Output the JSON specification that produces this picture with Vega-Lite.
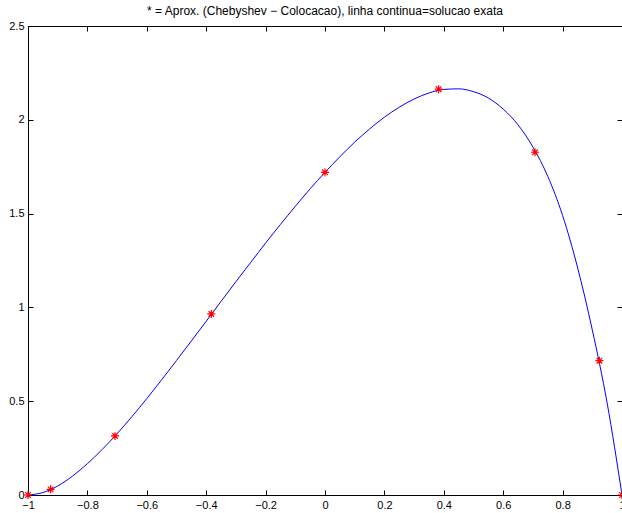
{
  "$schema": "https://vega.github.io/schema/vega-lite/v6.json",
  "autosize": "none",
  "width": 594,
  "height": 469,
  "padding": {"left": 28, "top": 26, "right": 0, "bottom": 18},
  "background": "white",
  "title": {"text": "* = Aprox. (Chebyshev − Colocacao), linha continua=solucao exata", "font": "Liberation Sans", "fontSize": 12, "fontWeight": "normal", "color": "black", "anchor": "middle", "offset": 2},
  "config": {
    "view": {"stroke": "black", "strokeWidth": 1},
    "axis": {"grid": false, "domainColor": "black", "tickColor": "black", "labelColor": "black", "labelFont": "Liberation Sans", "labelFontSize": 11, "labelFlush": false, "labelOverlap": false, "tickSize": -5, "title": null, "format": "~g"}
  },
  "datasets": {
    "curve": [
      {"x": -1, "y": 0}, {"x": -0.95, "y": 0.013}, {"x": -0.9, "y": 0.048}, {"x": -0.85, "y": 0.101},
      {"x": -0.8, "y": 0.167}, {"x": -0.75, "y": 0.243}, {"x": -0.7, "y": 0.327}, {"x": -0.65, "y": 0.418},
      {"x": -0.6, "y": 0.514}, {"x": -0.55, "y": 0.614}, {"x": -0.5, "y": 0.717}, {"x": -0.45, "y": 0.821},
      {"x": -0.4, "y": 0.926}, {"x": -0.35, "y": 1.032}, {"x": -0.3, "y": 1.137}, {"x": -0.25, "y": 1.24},
      {"x": -0.2, "y": 1.343}, {"x": -0.15, "y": 1.442}, {"x": -0.1, "y": 1.539}, {"x": -0.05, "y": 1.632},
      {"x": 0, "y": 1.72}, {"x": 0.05, "y": 1.803}, {"x": 0.1, "y": 1.881}, {"x": 0.15, "y": 1.951},
      {"x": 0.2, "y": 2.014}, {"x": 0.25, "y": 2.067}, {"x": 0.3, "y": 2.111}, {"x": 0.35, "y": 2.143},
      {"x": 0.4, "y": 2.162}, {"x": 0.45, "y": 2.165}, {"x": 0.5, "y": 2.15}, {"x": 0.55, "y": 2.116},
      {"x": 0.6, "y": 2.057}, {"x": 0.65, "y": 1.973}, {"x": 0.7, "y": 1.855}, {"x": 0.75, "y": 1.699},
      {"x": 0.8, "y": 1.49}, {"x": 0.85, "y": 1.215}, {"x": 0.9, "y": 0.88}, {"x": 0.95, "y": 0.49},
      {"x": 1, "y": 0}
    ],
    "pts": [
      {"x": -1, "y": 0}, {"x": -0.9239, "y": 0.03}, {"x": -0.7071, "y": 0.315}, {"x": -0.3827, "y": 0.965},
      {"x": 0, "y": 1.72}, {"x": 0.3827, "y": 2.163}, {"x": 0.7071, "y": 1.827}, {"x": 0.9239, "y": 0.716},
      {"x": 1, "y": 0}
    ]
  },
  "layer": [
    {
      "data": {"name": "curve"},
      "mark": {"type": "line", "color": "#0000ff", "strokeWidth": 1, "interpolate": "monotone", "clip": true},
      "encoding": {
        "x": {"field": "x", "type": "quantitative", "scale": {"domain": [-1, 1], "nice": false, "zero": false},
              "axis": {"orient": "bottom", "values": [-1, -0.8, -0.6, -0.4, -0.2, 0, 0.2, 0.4, 0.6, 0.8, 1], "labelPadding": 9}},
        "y": {"field": "y", "type": "quantitative", "scale": {"domain": [0, 2.5], "nice": false, "zero": false},
              "axis": {"orient": "left", "values": [0, 0.5, 1, 1.5, 2, 2.5], "labelPadding": 9}}
      }
    },
    {
      "data": {"name": "pts"},
      "mark": {"type": "point", "shape": "M-1,0L1,0M0,-1L0,1M-0.7,-0.7L0.7,0.7M-0.7,0.7L0.7,-0.7", "size": 64, "filled": false, "stroke": "#ff0000", "strokeWidth": 1.2, "opacity": 1},
      "encoding": {
        "x": {"field": "x", "type": "quantitative", "axis": {"orient": "top", "values": [-1, -0.8, -0.6, -0.4, -0.2, 0, 0.2, 0.4, 0.6, 0.8, 1], "labels": false}},
        "y": {"field": "y", "type": "quantitative", "axis": {"orient": "right", "values": [0, 0.5, 1, 1.5, 2, 2.5], "labels": false}}
      }
    }
  ],
  "resolve": {"axis": {"x": "independent", "y": "independent"}}
}
